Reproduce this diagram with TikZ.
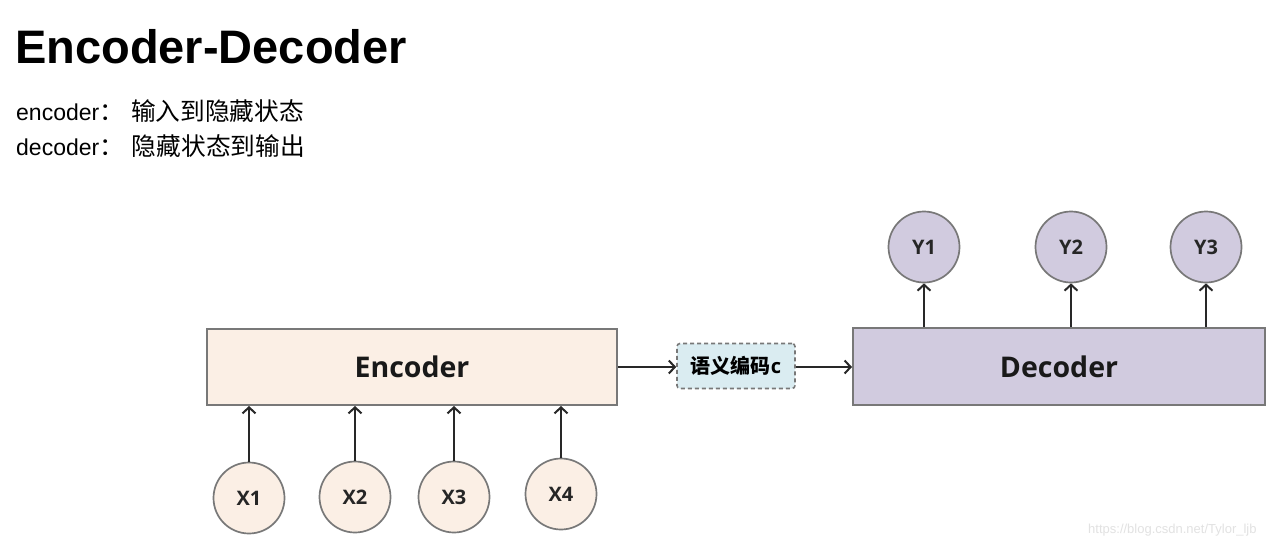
\documentclass[tikz,border=0pt]{standalone}
\usepackage{fontspec}
\setmainfont{Liberation Sans}
\newfontfamily\cjk{Noto Sans CJK SC}
\newfontfamily\lbl{Open Sans}
\usetikzlibrary{arrows.meta}
\definecolor{peach}{RGB}{251,239,229}
\definecolor{lav}{RGB}{209,203,223}
\definecolor{ltblue}{RGB}{218,236,241}
\definecolor{bord}{RGB}{120,120,120}
\definecolor{arrc}{RGB}{40,40,40}
\definecolor{wm}{RGB}{226,226,226}
\tikzset{
  blockbox/.style={draw=bord, line width=2pt, minimum height=76pt, inner sep=0pt,
    font=\lbl\bfseries\fontsize{28.5}{30}\selectfont, text=black!90},
  token/.style={circle, draw=bord, line width=1.7pt, minimum size=71pt, inner sep=0pt,
    font=\lbl\bfseries\fontsize{20}{22}\selectfont, text=black!85},
  arr/.style={draw=arrc, line width=2.3pt, -{Straight Barb[length=6pt,width=13pt,line width=2pt]}},
  semb/.style={draw=bord, dashed, dash pattern=on 4pt off 3pt, line width=1.6pt, rounded corners=3pt,
    fill=ltblue, minimum width=118pt, minimum height=45pt, inner sep=0pt},
  line/.style={anchor=base west, inner sep=0pt}
}
\begin{document}
\begin{tikzpicture}[x=1pt,y=-1pt]
\useasboundingbox (0,0) rectangle (1280,544);
\fill[white] (0,0) rectangle (1280,544);

\node[line, font=\bfseries\fontsize{47}{50}\selectfont] (title) at (15,63) {Encoder-Decoder};
\node[line, font=\fontsize{23}{26}\selectfont] (l1) at (16,120) {encoder{\cjk\fontsize{24.7}{26}\selectfont ：\hspace{7pt}输入到隐藏状态}};
\node[line, font=\fontsize{23}{26}\selectfont] (l2) at (16,155) {decoder{\cjk\fontsize{24.7}{26}\selectfont ：\hspace{8pt}隐藏状态到输出}};

\node[blockbox, fill=peach, minimum width=410pt] (enc) at (412,367) {Encoder};
\node[blockbox, fill=lav, minimum width=412pt, minimum height=77pt] (dec) at (1059,366.5) {Decoder};
\node[semb] (sem) at (736,366) {{\cjk\bfseries\fontsize{20}{22}\selectfont 语义编码}{\lbl\bfseries\fontsize{20}{22}\selectfont c}};

\node[token, fill=peach] (x1) at (249,498) {X1};
\node[token, fill=peach] (x2) at (355,497) {X2};
\node[token, fill=peach] (x3) at (454,497) {X3};
\node[token, fill=peach] (x4) at (561,494) {X4};

\node[token, fill=lav] (y1) at (924,247) {Y1};
\node[token, fill=lav] (y2) at (1071,247) {Y2};
\node[token, fill=lav] (y3) at (1206,247) {Y3};

\foreach \n in {x1,x2,x3,x4} \draw[arr] (\n) -- (\n |- enc.south);
\foreach \n in {y1,y2,y3} \draw[arr] (\n |- dec.north) -- (\n);
\draw[arr] (enc.east) -- (enc.east -| sem.west);
\draw[arr] (enc.east -| sem.east) -- (enc.east -| dec.west);

\node[line, font=\fontsize{13}{15}\selectfont, text=wm] (wmk) at (1088,533) {https://blog.csdn.net/Tylor\_ljb};
\end{tikzpicture}
\end{document}
